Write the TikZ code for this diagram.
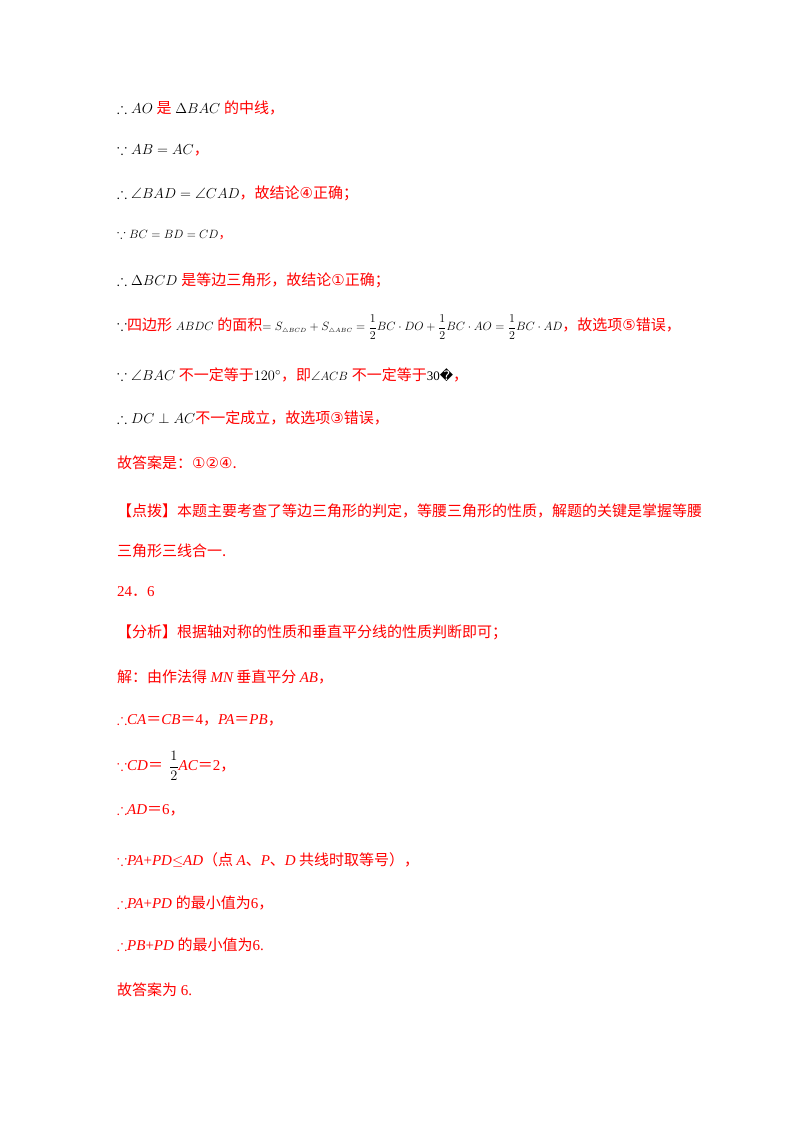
\documentclass[tikz,border=0pt]{standalone}
\usepackage{amsmath,amssymb}
\usepackage{fontspec}
\setmainfont{Liberation Serif}
\newfontfamily\cjk{Noto Sans CJK SC}
\newfontfamily\sym{DejaVu Sans}
\definecolor{rd}{RGB}{255,0,0}
\newcommand{\R}[1]{\textcolor{rd}{\cjk #1}}
\newcommand{\I}[1]{{\rmfamily\itshape #1}}
\newcommand{\Q}{{\cjk ＝}}
\newcommand{\sm}{\fontsize{13}{15}\selectfont}
\begin{document}
\begin{tikzpicture}[x=1pt,y=-1pt,
  ln/.style={anchor=west,inner sep=0pt,font=\fontsize{15}{18}\selectfont},
  rl/.style={ln,text=rd}]
\useasboundingbox (0,0) rectangle (800,1132);
\node[ln] (l1) at (117,108) {$\therefore AO$ \R{是} $\Delta BAC$ \R{的中线，}};
\node[ln] (l2) at (117,150) {$\because AB=AC$\R{，}};
\node[ln] (l3) at (117,193) {$\therefore \angle BAD=\angle CAD$\R{，故结论{\sym ④}正确；}};
\node[ln] (l4) at (117,235) {\sm$\because BC=BD=CD$\R{，}};
\node[ln] (l5) at (117,280) {$\therefore \Delta BCD$ \R{是等边三角形，故结论{\sym ①}正确；}};
\node[ln] (l6) at (117,327) {$\because$\R{四边形} {\sm$ABDC$} \R{的面积}{\sm$=S_{\scriptscriptstyle\triangle BCD}+S_{\scriptscriptstyle\triangle ABC}=\dfrac12 BC\cdot DO+\dfrac12 BC\cdot AO=\dfrac12 BC\cdot AD$}\R{，故选项{\sym ⑤}错误，}};
\node[ln] (l7) at (117,375) {$\because \angle BAC$ \R{不一定等于}$120^\circ$\R{，即}{\sm$\angle ACB$} \R{不一定等于}{\sm 30}{\sym\sm �}\R{，}};
\node[ln] (l8) at (117,418) {$\therefore DC\perp AC$\R{不一定成立，故选项{\sym ③}错误，}};
\node[rl] (l9) at (117,463) {\cjk 故答案是：{\sym ①②④}.};
\node[rl] (l10) at (117,511) {\cjk 【点拨】本题主要考查了等边三角形的判定，等腰三角形的性质，解题的关键是掌握等腰};
\node[rl] (l11) at (117,551) {\cjk 三角形三线合一.};
\node[rl] (l12) at (117,592) {24{\cjk ．}6};
\node[rl] (l13) at (117,632) {\cjk 【分析】根据轴对称的性质和垂直平分线的性质判断即可；};
\node[rl] (l14) at (117,677) {\cjk 解：由作法得 \I{MN} 垂直平分 \I{AB}，};
\node[rl] (l15) at (117,720) {$\therefore$\I{CA}\Q\I{CB}\Q 4{\cjk ，}\I{PA}\Q\I{PB}{\cjk ，}};
\node[rl] (l16) at (117,766) {$\because$\I{CD}\Q\, \textcolor{black}{$\dfrac12$}\I{AC}\Q 2{\cjk ，}};
\node[rl] (l17) at (117,810) {$\therefore$\I{AD}\Q 6{\cjk ，}};
\node[rl] (l18) at (117,860) {$\because$\I{PA}+\I{PD}$\leq$\I{AD}{\cjk （点 \I{A}、\I{P}、\I{D} 共线时取等号），}};
\node[rl] (l19) at (117,903) {$\therefore$\I{PA}+\I{PD} {\cjk 的最小值为}6{\cjk ，}};
\node[rl] (l20) at (117,945) {$\therefore$\I{PB}+\I{PD} {\cjk 的最小值为}6.};
\node[rl] (l21) at (117,990) {{\cjk 故答案为} 6.};
\end{tikzpicture}
\end{document}
